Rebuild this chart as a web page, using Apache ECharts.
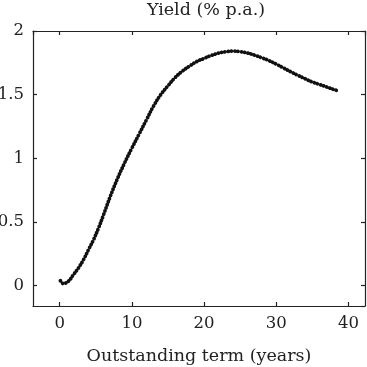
<!DOCTYPE html>
<html><head><meta charset="utf-8">
<script src="https://cdn.jsdelivr.net/npm/echarts@6/dist/echarts.min.js"></script>
<style>html,body{margin:0;padding:0;background:#fff}#c{width:367px;height:367px}</style>
</head><body><div id="c"></div>
<script>
const titleText = 'Yield (% p.a.)';
const xName = 'Outstanding term (years)';
const termYears = [0.1, 0.5, 1.2, 1.9, 2.6, 3.3, 4.0, 4.7, 5.4, 6.1, 7.0, 8.0, 9.0, 10.0, 11.0, 12.0, 13.0, 14.0, 15.0, 16.0, 17.0, 18.0, 19.0, 20.0, 21.0, 22.0, 23.0, 24.0, 25.0, 26.0, 27.0, 28.0, 29.0, 30.0, 31.0, 32.0, 33.0, 34.0, 35.0, 36.0, 37.0, 38.0, 38.7];
const yieldPct = [0.038, 0.016, 0.034, 0.086, 0.139, 0.204, 0.283, 0.362, 0.455, 0.56, 0.70, 0.84, 0.965, 1.08, 1.19, 1.30, 1.41, 1.50, 1.57, 1.635, 1.685, 1.725, 1.76, 1.785, 1.808, 1.826, 1.837, 1.842, 1.838, 1.827, 1.81, 1.79, 1.767, 1.74, 1.71, 1.68, 1.652, 1.625, 1.60, 1.58, 1.56, 1.54, 1.527];

const FONT = 'DejaVu Serif';
const data = termYears.map((t, i) => [t, yieldPct[i]]);
const axisLine = {show: true, onZero: false, lineStyle: {color: '#222', width: 1.2}};
const ticks = {show: true, inside: true, length: 4, lineStyle: {color: '#222', width: 1.2}};
const chart = echarts.init(document.getElementById('c'), null, {renderer: 'canvas'});
chart.setOption({
  animation: false,
  backgroundColor: '#fff',
  title: {text: titleText, left: 201, top: -4, textAlign: 'center',
    textStyle: {fontFamily: FONT, fontWeight: 'normal', fontSize: 17.5, color: '#222'}},
  grid: {left: 33, right: 2, top: 31, bottom: 61, containLabel: false, outerBoundsMode: 'none'},
  xAxis: [{
    type: 'value', min: -3.7, max: 42.3, splitNumber: 5,
    name: xName, nameLocation: 'middle', nameGap: 41,
    nameTextStyle: {fontFamily: FONT, fontSize: 17.5, color: '#222'},
    axisLine: axisLine, axisTick: ticks, splitLine: {show: false},
    axisLabel: {fontFamily: FONT, fontSize: 16.5, color: '#222', margin: 9, showMinLabel: false, showMaxLabel: false}
  }, {
    type: 'value', position: 'top', min: -3.7, max: 42.3, splitNumber: 5,
    axisLine: axisLine, axisTick: ticks, splitLine: {show: false}, axisLabel: {show: false}
  }],
  yAxis: [{
    type: 'value', min: -0.16, max: 2.0, splitNumber: 4,
    axisLine: axisLine, axisTick: ticks, splitLine: {show: false},
    axisLabel: {fontFamily: FONT, fontSize: 16.5, color: '#222', margin: 9, showMinLabel: false}
  }, {
    type: 'value', position: 'right', min: -0.16, max: 2.0, splitNumber: 4,
    axisLine: axisLine, axisTick: ticks, splitLine: {show: false}, axisLabel: {show: false}
  }],
  series: [{
    type: 'line', data: data, smooth: 0.4, showSymbol: false,
    lineStyle: {color: '#111', width: 3.8, type: [0.01, 3.3], cap: 'round'}
  }]
});
</script></body></html>
